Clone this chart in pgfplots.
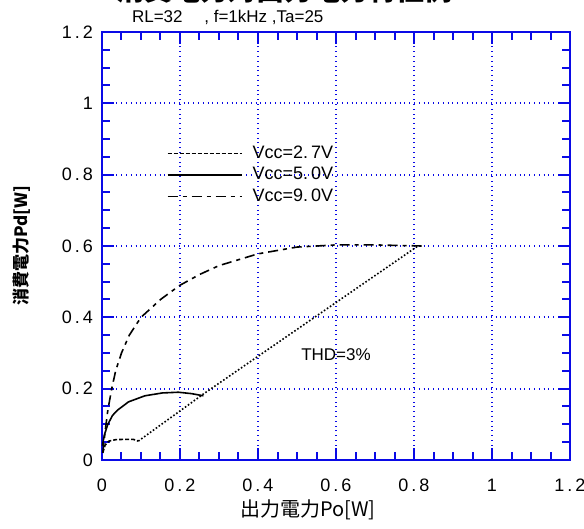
\documentclass[border=0pt]{standalone}
\usepackage{pgfplots}
\pgfplotsset{compat=1.18}
\usepackage{fontspec}
\setmainfont{Liberation Sans}
\newfontfamily\cjk{Noto Sans CJK JP}
\definecolor{axblue}{RGB}{10,10,230}

\begin{document}
\begin{tikzpicture}
\begin{axis}[
  scale only axis,
  width=234pt, height=214pt,
  xmin=0, xmax=1.2, ymin=0, ymax=1.2,
  xtick={0,0.2,...,1.2}, ytick={0,0.2,...,1.2},
  xticklabels={0,0\,.\,2,0\,.\,4,0\,.\,6,0\,.\,8,1,1\,.\,2},
  yticklabels={0,0\,.\,2,0\,.\,4,0\,.\,6,0\,.\,8,1,1\,.\,2},
  minor tick num=3,
  tick align=inside,
  major tick length=6pt, minor tick length=4pt,
  xtick pos=both, ytick pos=both,
  axis line style={axblue, line width=1.2pt},
  every tick/.style={axblue, line width=1pt},
  grid=major,
  major grid style={axblue, dotted, line width=0.9pt},
  tick label style={font=\fontsize{9}{10}\selectfont},
  xticklabel style={yshift=-6pt},
  yticklabel style={xshift=-1pt},
  legend style={draw=none, fill=none, at={(axis cs:0.15,0.905)}, anchor=north west,
    font=\fontsize{9}{10}\selectfont, row sep=-1pt, column sep=3pt},
  legend cell align=left,
  legend image code/.code={\draw[#1] (0pt,0pt) -- (37pt,0pt);},
  clip=false,
]
\addplot[black, line width=0.8pt, dash pattern=on 2pt off 1pt] coordinates {
(0.002,0.02) (0.008,0.042) (0.018,0.053) (0.035,0.057) (0.06,0.058) (0.08,0.058) (0.093,0.053)
};
\addlegendentry{Vcc=2.\,7V}
\addplot[black, line width=0.8pt] coordinates {
(0.001,0.04) (0.006,0.07) (0.015,0.10) (0.027,0.125) (0.04,0.14) (0.068,0.163)
(0.11,0.18) (0.155,0.188) (0.196,0.19) (0.23,0.186) (0.26,0.18)
};
\addlegendentry{Vcc=5.\,0V}
\addplot[black, line width=0.8pt, dash pattern=on 5pt off 2.5pt on 2pt off 2.5pt] coordinates {
(0.002,0.02) (0.008,0.08) (0.015,0.14) (0.025,0.2) (0.035,0.25) (0.05,0.3) (0.07,0.35)
(0.1,0.4) (0.15,0.45) (0.2,0.49) (0.25,0.52) (0.3,0.545) (0.4,0.578) (0.5,0.597)
(0.6,0.603) (0.7,0.603) (0.82,0.6)
};
\addlegendentry{Vcc=9.\,0V}
\addplot[black, line width=0.8pt, densely dotted, forget plot] coordinates {
(0.093,0.053) (0.26,0.185) (0.81,0.6)
};
\node[font=\fontsize{8.5}{9}\selectfont] at (axis cs:0.60,0.295) {THD=3\%};
\node[anchor=base west, font=\fontsize{8.5}{9}\selectfont] at ([xshift=11.5pt,yshift=4.5pt]current axis.north west) {RL=32\quad\ , f=1kHz ,Ta=25};
\node[anchor=base, font=\cjk\bfseries\fontsize{14}{16}\selectfont] at ([xshift=-25.5pt,yshift=15.5pt]current axis.north) {消費電力対出力電力特性例};
\end{axis}
\node[font=\cjk\fontsize{10}{12}\selectfont] at ([xshift=-14pt,yshift=-25pt]current axis.south) {出力電力Po[W]};
\node[rotate=90, font=\cjk\bfseries\fontsize{8.5}{10}\selectfont] at ([xshift=-40pt]current axis.west) {消費電力Pd[W]};
\pgfresetboundingbox
\path[use as bounding box] ([xshift=-51pt,yshift=-34.5pt]current axis.south west) rectangle ([xshift=7pt,yshift=16pt]current axis.north east);
\end{tikzpicture}
\end{document}
